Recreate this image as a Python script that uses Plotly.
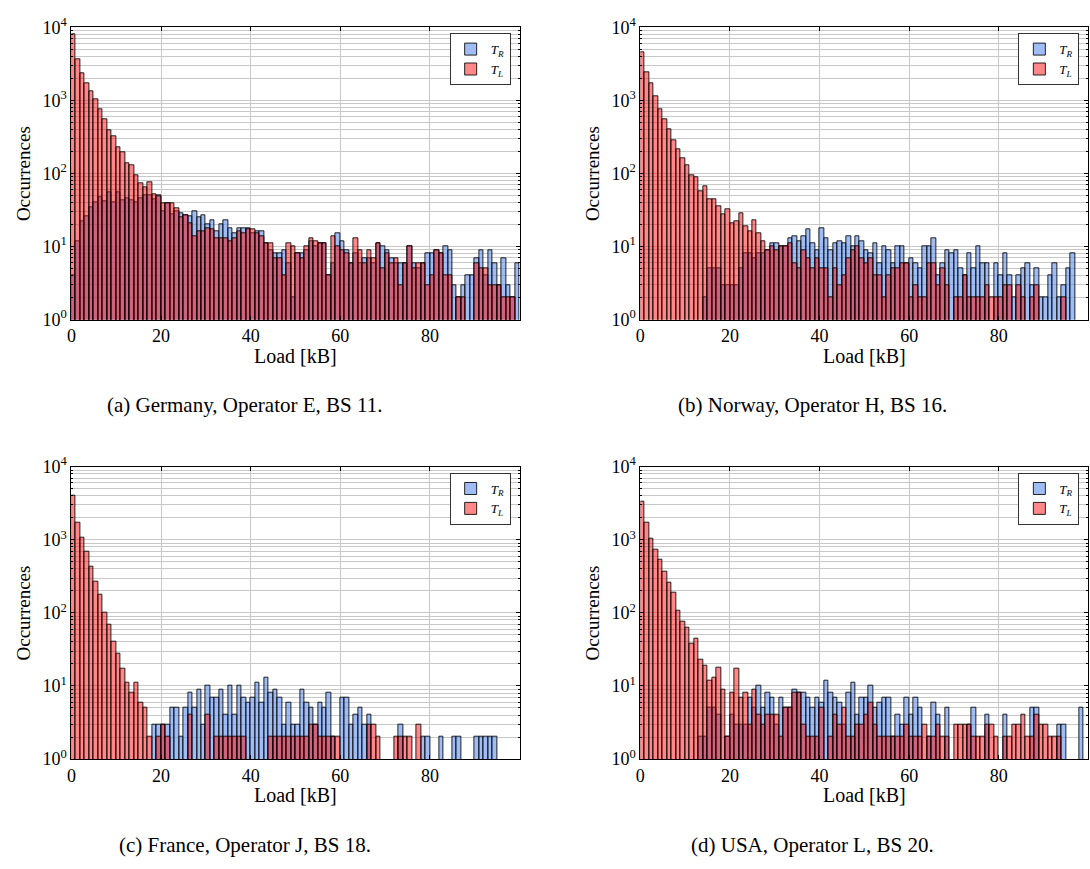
from __future__ import annotations

import plotly.graph_objects as go

W, H = 1090, 869
FONT = "Liberation Serif"

# histogram bins of 1 kB, counts per bin (bins 0..99)
BIN_LEFT = list(range(100))

germany_tl = [
    8100, 3660, 2340, 1740, 1340, 1040, 750, 550, 390, 324,
    230, 192, 138, 128, 96, 73, 64, 75, 52, 49,
    39, 39, 39, 33, 25, 27, 21, 14, 16, 16,
    18, 17, 13, 13, 13, 12, 13, 16, 15, 17,
    17, 15, 14, 11, 11, 7, 7, 4, 11, 10,
    8, 7, 10, 13, 12, 11, 11, 4, 14, 10,
    9, 8, 6, 13, 9, 6, 9, 7, 11, 5,
    8, 6, 7, 3, 6, 10, 5, 6, 6, 3,
    4, 9, 8, 4, 4, 0, 2, 2, 0, 0,
    6, 5, 5, 3, 3, 3, 2, 2, 2, 0,
]
germany_tr = [
    4, 12, 22, 26, 34, 40, 47, 42, 56, 41,
    56, 43, 46, 43, 40, 46, 50, 50, 45, 50,
    30, 39, 28, 30, 29, 27, 26, 30, 25, 27,
    20, 23, 16, 20, 23, 18, 15, 18, 18, 18,
    15, 16, 16, 11, 9, 8, 8, 9, 6, 2,
    8, 8, 9, 12, 10, 11, 11, 4, 6, 15,
    12, 9, 6, 8, 6, 7, 7, 6, 11, 10,
    9, 7, 6, 6, 6, 10, 6, 5, 6, 8,
    8, 9, 8, 10, 9, 3, 2, 3, 4, 4,
    7, 9, 4, 9, 6, 3, 7, 3, 2, 6,
]

norway_tl = [
    4600, 2390, 1690, 1140, 745, 550, 400, 284, 215, 160,
    128, 96, 88, 58, 67, 45, 45, 36, 28, 32,
    21, 22, 29, 19, 16, 23, 15, 12, 9, 10,
    9, 10, 10, 11, 6, 5, 9, 7, 5, 7,
    5, 5, 2, 5, 3, 4, 7, 9, 10, 7,
    6, 7, 4, 4, 2, 4, 5, 5, 6, 6,
    2, 3, 2, 2, 6, 6, 3, 5, 3, 0,
    2, 2, 4, 2, 2, 2, 2, 3, 2, 2,
    2, 3, 3, 0, 3, 2, 0, 2, 3, 0,
    0, 0, 0, 0, 2, 0, 0, 0, 0, 0,
]
norway_tr = [
    0, 0, 0, 0, 0, 0, 0, 0, 0, 0,
    0, 0, 0, 0, 2, 5, 5, 5, 3, 3,
    3, 3, 5, 8, 8, 7, 8, 8, 9, 11,
    11, 10, 10, 13, 14, 12, 14, 17, 11, 9,
    18, 13, 9, 11, 12, 11, 14, 10, 14, 12,
    9, 8, 11, 6, 10, 9, 6, 10, 10, 6,
    7, 6, 5, 10, 10, 13, 4, 6, 9, 8,
    9, 5, 4, 8, 5, 10, 6, 6, 0, 6,
    4, 8, 4, 2, 4, 5, 6, 3, 5, 2,
    2, 4, 6, 2, 3, 5, 8, 0, 0, 0,
]

france_tl = [
    3980, 1690, 1070, 690, 430, 270, 175, 102, 70, 40,
    28, 17, 11, 8, 11, 6, 5, 2, 0, 2,
    3, 2, 0, 0, 0, 0, 4, 0, 0, 0,
    4, 0, 2, 2, 2, 2, 2, 2, 2, 0,
    0, 0, 0, 0, 2, 2, 2, 2, 2, 2,
    2, 2, 2, 3, 3, 2, 2, 2, 2, 2,
    0, 0, 0, 0, 0, 0, 3, 3, 2, 0,
    0, 0, 2, 2, 2, 2, 0, 3, 0, 0,
    0, 0, 0, 0, 0, 0, 0, 0, 0, 0,
    0, 0, 0, 0, 0, 0, 0, 0, 0, 0,
]
france_tr = [
    0, 0, 0, 0, 0, 0, 0, 0, 0, 0,
    0, 0, 0, 0, 0, 0, 0, 0, 3, 3,
    3, 3, 5, 5, 2, 5, 8, 5, 9, 3,
    10, 7, 7, 9, 4, 10, 4, 10, 7, 6,
    7, 11, 6, 13, 8, 9, 7, 3, 6, 3,
    3, 9, 6, 5, 3, 6, 5, 8, 2, 0,
    7, 7, 3, 4, 5, 3, 4, 0, 0, 0,
    0, 0, 0, 3, 0, 0, 0, 0, 2, 2,
    0, 0, 2, 0, 0, 2, 2, 0, 0, 0,
    2, 2, 2, 2, 2, 0, 0, 0, 0, 0,
]

usa_tl = [
    3300, 1690, 1020, 735, 535, 365, 255, 189, 108, 75,
    62, 38, 44, 23, 19, 12, 13, 18, 9, 2,
    8, 17, 7, 8, 3, 9, 4, 3, 4, 4,
    4, 2, 5, 5, 8, 8, 3, 2, 2, 2,
    5, 0, 2, 4, 3, 5, 2, 2, 3, 3,
    4, 6, 3, 2, 2, 2, 2, 2, 2, 3,
    2, 2, 2, 3, 2, 2, 3, 2, 2, 0,
    3, 3, 3, 3, 2, 2, 2, 3, 3, 2,
    0, 2, 2, 3, 3, 4, 2, 2, 4, 3,
    3, 2, 2, 2, 0, 0, 0, 0, 0, 0,
]
usa_tr = [
    0, 0, 0, 0, 0, 0, 0, 0, 0, 0,
    0, 0, 0, 2, 2, 5, 5, 4, 0, 2,
    4, 3, 3, 3, 7, 5, 10, 5, 8, 7,
    3, 7, 5, 5, 9, 8, 8, 7, 5, 7,
    6, 12, 8, 7, 6, 3, 8, 11, 4, 7,
    7, 10, 5, 6, 7, 7, 2, 4, 3, 7,
    4, 7, 5, 0, 2, 6, 4, 0, 5, 0,
    0, 0, 0, 3, 5, 0, 0, 4, 0, 0,
    0, 4, 0, 0, 0, 0, 0, 5, 5, 0,
    0, 0, 0, 3, 3, 0, 0, 0, 5, 0,
]

captions = [
    "(a) Germany, Operator E, BS 11.",
    "(b) Norway, Operator H, BS 16.",
    "(c) France, Operator J, BS 18.",
    "(d) USA, Operator L, BS 20.",
]
x_ticks = [0, 20, 40, 60, 80]
y_major = [1, 10, 100, 1000, 10000]
y_major_text = ["10<sup>0</sup>", "10<sup>1</sup>", "10<sup>2</sup>", "10<sup>3</sup>", "10<sup>4</sup>"]
y_minor = [m * d for d in (1, 10, 100, 1000) for m in range(2, 10)]

# plot boxes in pixels: (left, right, top, bottom)
BOXES = [
    (66.7, 517.0, 15.7, 315.7),
    (638.3, 1088.3, 15.7, 315.7),
    (66.7, 517.0, 466.5, 766.5),
    (638.3, 1088.3, 466.5, 766.5),
]
CAPTION_X = [241, 811, 241, 811]

BLUE = "rgba(100,149,237,0.62)"
RED = "rgba(255,0,0,0.47)"
EDGE = "rgba(0,0,0,0.85)"


def px_x(v: float) -> float:
    return v / W


def px_y(v: float) -> float:
    return 1 - v / H


def nz(values):
    return [v if v > 0 else None for v in values]


def label(text, x, y, size, angle=0):
    return dict(
        text=text, textangle=angle, x=px_x(x), y=px_y(y),
        xref="paper", yref="paper", xanchor="center", yanchor="middle",
        showarrow=False, font=dict(family=FONT, size=size, color="black"),
    )


fig = go.Figure()
series = [
    (germany_tr, germany_tl),
    (norway_tr, norway_tl),
    (france_tr, france_tl),
    (usa_tr, usa_tl),
]
centers = [b + 0.5 for b in BIN_LEFT]

annotations = []
for i, ((tr, tl), box) in enumerate(zip(series, BOXES)):
    n = "" if i == 0 else str(i + 1)
    leg = "legend" + n
    left, right, top, bottom = box
    for name, vals, color in (
        ("<i>T</i><sub><i>R</i></sub>", tr, BLUE),
        ("<i>T</i><sub><i>L</i></sub>", tl, RED),
    ):
        fig.add_trace(go.Bar(
            x=centers, y=nz(vals), width=1.0, name=name,
            marker=dict(color=color, line=dict(color=EDGE, width=1)),
            xaxis="x" + n, yaxis="y" + n, legend=leg,
        ))

    axis_common = dict(
        showline=True, linecolor="black", linewidth=1, mirror="ticks",
        ticks="inside", tickcolor="black", gridcolor="#c8c8c8", gridwidth=1,
        tickfont=dict(family=FONT, size=18, color="black"), zeroline=False,
    )
    fig.update_layout({
        "xaxis" + n: dict(
            axis_common, domain=[px_x(left), px_x(right)], anchor="y" + n,
            range=[0, 100], tickmode="array", tickvals=x_ticks, ticklen=4,
        ),
        "yaxis" + n: dict(
            axis_common, domain=[px_y(bottom), px_y(top)], anchor="x" + n,
            type="log", range=[0, 4], tickmode="array", tickvals=y_major,
            ticktext=y_major_text, ticklen=4,
            minor=dict(tickvals=y_minor, ticks="inside", ticklen=2, tickcolor="black",
                       showgrid=True, gridcolor="#c8c8c8", gridwidth=1),
        ),
        leg: dict(
            x=px_x(right - 9), y=px_y(top + 6), xanchor="right", yanchor="top",
            bgcolor="white", bordercolor="#333333", borderwidth=1,
            font=dict(family=FONT, size=13, color="black"),
            itemwidth=30, tracegroupgap=0,
        ),
    })

    annotations.append(label("Occurrences", left - 48, (top + bottom) / 2, 19, angle=-90))
    annotations.append(label("Load [kB]", (left + right) / 2, bottom + 37, 20))
    annotations.append(label(captions[i], CAPTION_X[i], bottom + 88, 21))

fig.update_layout(
    width=W, height=H, autosize=False,
    margin=dict(l=0, r=0, t=0, b=0),
    paper_bgcolor="white", plot_bgcolor="white",
    barmode="overlay", bargap=0, showlegend=True,
    annotations=annotations,
)

# the page body has an 8px default margin; drop it so the figure fills the window
fig.write_html(
    "out.html",
    config={"displayModeBar": False},
    post_script="document.body.style.margin='0';",
)
